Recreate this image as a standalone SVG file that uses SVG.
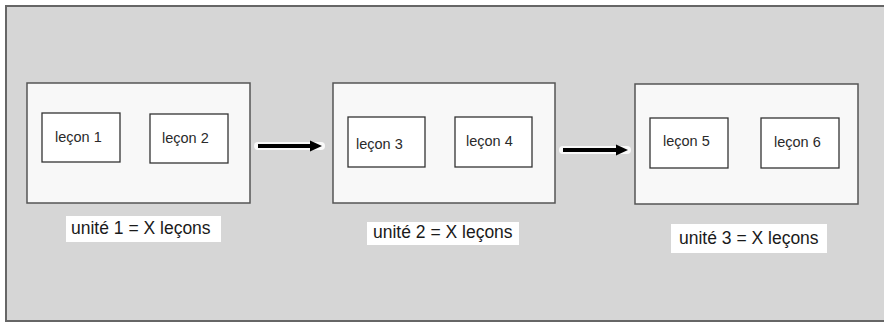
<svg xmlns="http://www.w3.org/2000/svg" width="884" height="323" viewBox="0 0 884 323">
<style>
.unit{fill:#f8f8f8;stroke:#555;stroke-width:1.5}
.lesson{fill:#fff;stroke:#333;stroke-width:1.3}
.lt{font-family:"Liberation Sans",Arial,sans-serif;font-size:14.5px;fill:#2a2a2a}
.lbg{fill:#fff}
.ut{font-family:"Liberation Sans",Arial,sans-serif;font-size:17.5px;fill:#1a1a1a}
.glow{stroke:#fff;stroke-width:8;stroke-linecap:round;fill:none;opacity:0.85}
.shaft{stroke:#000;stroke-width:4;fill:none}
</style>
<rect x="0" y="0" width="884" height="323" fill="#fff"/>
<rect x="6" y="6" width="884" height="315" fill="#d6d6d6" stroke="#666" stroke-width="2"/>
<g id="unit1">
<rect class="unit" x="27" y="83" width="223" height="120"/>
<g id="lecon1"><rect class="lesson" x="42" y="113" width="78" height="49"/><text class="lt" x="55" y="142">leçon 1</text></g>
<g id="lecon2"><rect class="lesson" x="150" y="114" width="78" height="49"/><text class="lt" x="162" y="143">leçon 2</text></g>
<rect class="lbg" x="66" y="216" width="155" height="26"/>
<text class="ut" x="71" y="234">unité 1 = X leçons</text>
</g>
<g id="unit2">
<rect class="unit" x="333" y="83" width="222" height="120"/>
<g id="lecon3"><rect class="lesson" x="348" y="117" width="77" height="50"/><text class="lt" x="356" y="149">leçon 3</text></g>
<g id="lecon4"><rect class="lesson" x="455" y="117" width="77" height="50"/><text class="lt" x="466" y="146">leçon 4</text></g>
<rect class="lbg" x="367" y="222" width="152" height="23"/>
<text class="ut" x="373" y="238">unité 2 = X leçons</text>
</g>
<g id="unit3">
<rect class="unit" x="635" y="84" width="223" height="120"/>
<g id="lecon5"><rect class="lesson" x="650" y="118" width="78" height="50"/><text class="lt" x="663" y="146">leçon 5</text></g>
<g id="lecon6"><rect class="lesson" x="761" y="118" width="78" height="50"/><text class="lt" x="774" y="147">leçon 6</text></g>
<rect class="lbg" x="671" y="224" width="156" height="29"/>
<text class="ut" x="679" y="244">unité 3 = X leçons</text>
</g>
<g id="connectors">
<path class="glow" d="M258 146 H321"/>
<path class="shaft" d="M258 146 H311"/>
<polygon points="310,140.5 322,146 310,151.5" fill="#000"/>
<path class="glow" d="M563 150 H627"/>
<path class="shaft" d="M563 150 H617"/>
<polygon points="616,144.5 628,150 616,155.5" fill="#000"/>
</g>
</svg>
